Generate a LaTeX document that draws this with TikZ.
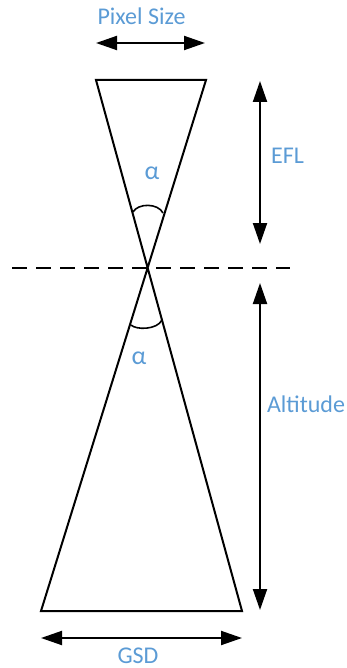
\documentclass[tikz,border=0pt]{standalone}
\usepackage{fontspec}
\setmainfont{Carlito}
\usetikzlibrary{arrows.meta}
\definecolor{lblblue}{HTML}{5B9BD5}
\begin{document}
\begin{tikzpicture}[x=1pt,y=-1pt,
  lbl/.style={text=lblblue,font=\fontsize{24}{28}\selectfont,inner sep=0pt,anchor=base},
  glassline/.style={line width=2pt,line join=miter},
  dim/.style={line width=2pt,{Triangle[length=21pt,width=14pt]}-{Triangle[length=21pt,width=14pt]}},
  anglearc/.style={line width=1.6pt}]
\useasboundingbox (0,0) rectangle (347,668);
% key points
\coordinate (tl) at (96,80);
\coordinate (tr) at (206,80);
\coordinate (apex) at (148,268);
\coordinate (bl) at (41,611);
\coordinate (br) at (242,611);
% hourglass
\draw[glassline] (tl) -- (tr) -- (bl) -- (br) -- cycle;
% dashed line
\coordinate (dl) at (12,268);
\coordinate (dr) at (290,268);
\draw[line width=2pt,dash pattern=on 15pt off 9pt] (dl) -- (dr);
% angle arcs
\draw[anglearc] (133,212) .. controls (138,203) and (158,203) .. (163,213);
\draw[anglearc] (131,325) .. controls (136,330) and (157,330) .. (162,320);
% dimension arrows
\coordinate (psL) at (96,43);
\coordinate (psR) at (205,43);
\draw[dim] (psL) -- (psR);
\coordinate (gsdL) at (41,638);
\coordinate (gsdR) at (242,638);
\draw[dim] (gsdL) -- (gsdR);
\coordinate (eflT) at (260,81);
\coordinate (eflB) at (260,244);
\draw[dim] (eflT) -- (eflB);
\coordinate (altT) at (260,283);
\coordinate (altB) at (260,610);
\draw[dim] (altT) -- (altB);
% labels
\node[lbl] (pixelsize) at (141.5,25) {Pixel Size};
\node[lbl] (gsd) at (138,663) {GSD};
\node[lbl] (efl) at (287.5,164) {EFL};
\node[lbl] (alt) at (306,412) {Altitude};
\node[lbl,font=\fontsize{26}{30}\selectfont] (alpha1) at (152,180) {α};
\node[lbl,font=\fontsize{26}{30}\selectfont] (alpha2) at (139,364) {α};
\end{tikzpicture}
\end{document}
